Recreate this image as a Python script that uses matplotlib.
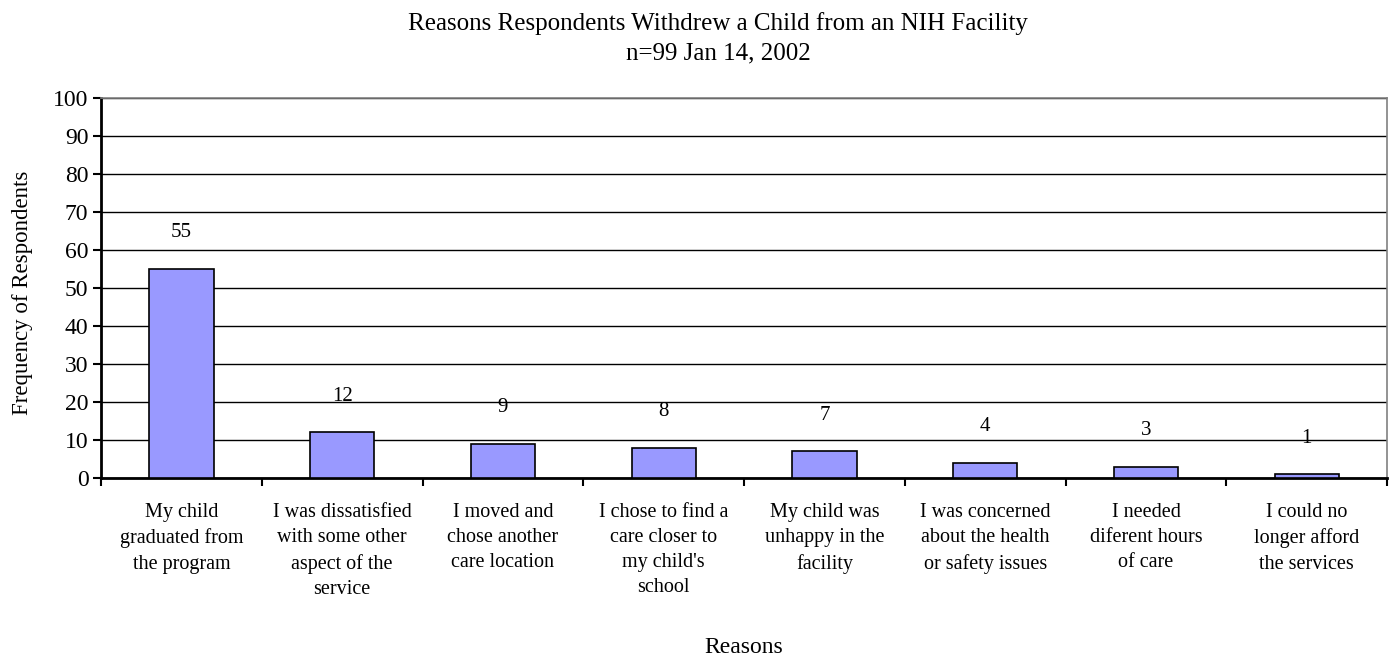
import numpy as np
import matplotlib.pyplot as plt

plt.rcParams.update({
    "font.family": ["Liberation Serif", "DejaVu Serif"],
    "font.size": 15,
})

# ── Data ─────────────────────────────────────────────────────────
reasons = [
    "My child\ngraduated from\nthe program",
    "I was dissatisfied\nwith some other\naspect of the\nservice",
    "I moved and\nchose another\ncare location",
    "I chose to find a\ncare closer to\nmy child's\nschool",
    "My child was\nunhappy in the\nfacility",
    "I was concerned\nabout the health\nor safety issues",
    "I needed\ndiferent hours\nof care",
    "I could no\nlonger afford\nthe services",
]
counts = [55, 12, 9, 8, 7, 4, 3, 1]
yticks = list(range(0, 101, 10))

BAR_C = "#9999FF"

fig = plt.figure(figsize=(13.95, 6.6), dpi=100)
ax = fig.add_axes([0.0724, 0.2758, 0.922, 0.5758])

x = np.arange(len(counts))
ax.bar(x, counts, width=0.4, color=BAR_C, edgecolor="black",
       linewidth=1.2, zorder=3)

for xi, v in zip(x, counts):
    ax.annotate(str(v), xy=(xi, v), xytext=(0, 26),
                textcoords="offset points", ha="center", va="center",
                fontsize=15)

ax.set_xlim(-0.5, len(counts) - 0.5)
ax.set_ylim(0, 100)
ax.set_yticks(yticks)
ax.yaxis.grid(True, color="black", linewidth=1.0, zorder=0)
ax.set_axisbelow(True)

# category ticks at the boundaries, labels centred underneath
ax.set_xticks(np.arange(len(counts) + 1) - 0.5)
ax.set_xticklabels([])
ax.set_xticks(x, minor=True)
ax.set_xticklabels(reasons, minor=True, fontsize=14.5, linespacing=1.44,
                   va="top")
ax.tick_params(axis="x", which="minor", length=0, pad=18)
ax.tick_params(axis="x", which="major", length=6, width=1.5, direction="out")
ax.tick_params(axis="y", length=6, width=1.5, direction="out",
               labelsize=17, pad=3)

for s in ["left", "bottom"]:
    ax.spines[s].set_linewidth(2.0)
for s in ["top", "right"]:
    ax.spines[s].set_color("#808080")
    ax.spines[s].set_linewidth(1.2)

ax.set_ylabel("Frequency of Respondents", fontsize=16.5, va="center")
ax.yaxis.set_label_coords(-0.0614, 0.487)
ax.set_xlabel("Reasons", fontsize=17, va="center")
ax.xaxis.set_label_coords(0.5, -0.445)
ax.set_title("Reasons Respondents Withdrew a Child from an NIH Facility\n"
             "n=99 Jan 14, 2002", fontsize=18, linespacing=1.45,
             x=0.48, pad=27.5)

plt.savefig("out.png", dpi=100)
